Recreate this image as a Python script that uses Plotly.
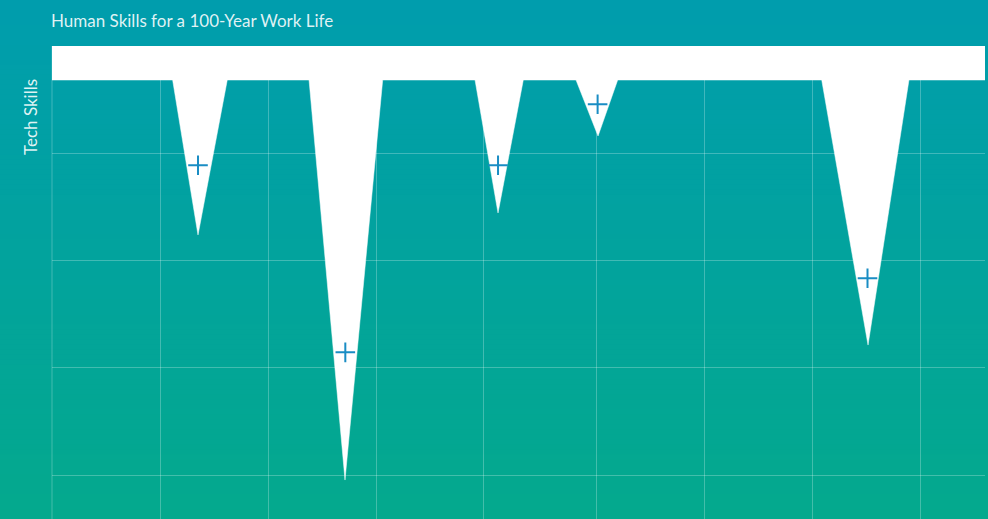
import plotly.graph_objects as go

# ---- data (x in grid units, y in "tech skills" units, 0 at top) ----
baseline = 0.317
x_start, x_end = 0.0, 8.639
spike_left = [1.117, 2.380, 3.917, 4.852, 7.127]
spike_tip_x = [1.352, 2.713, 4.130, 5.056, 7.556]
spike_right = [1.623, 3.062, 4.364, 5.238, 7.935]
spike_depth = [1.761, 4.045, 1.556, 0.839, 2.787]
marker_x = [1.352, 2.716, 4.130, 5.052, 7.551]
marker_y = [1.112, 2.855, 1.112, 0.543, 2.165]
grid_x = [0, 1, 2, 3, 4, 5.046, 6.046, 7.046, 8.046]
grid_y = [1, 2, 3, 4]
y_bottom = 4.408

# build outline of white shape
xs = [x_start]
ys = [baseline]
for l, t, r, d in zip(spike_left, spike_tip_x, spike_right, spike_depth):
    xs += [l, t, r]
    ys += [baseline, d, baseline]
xs.append(x_end)
ys.append(baseline)

W, H = 988, 519
ml, mr, mt, mb = 52, 3, 46, 0
pw, ph = W - ml - mr, H - mt - mb

fig = go.Figure()
fig.add_trace(go.Scatter(
    x=xs, y=ys, mode="lines", fill="tozeroy",
    fillcolor="white", line=dict(color="white", width=0.5),
    hoverinfo="skip", showlegend=False))
fig.add_trace(go.Scatter(
    x=marker_x, y=marker_y, mode="markers",
    marker=dict(symbol="cross-thin", size=14,
                line=dict(color="#1a8dc4", width=2)),
    hoverinfo="skip", showlegend=False))

# gradient background strips
def lerp(a, b, t):
    return tuple(round(a[i] + (b[i] - a[i]) * t) for i in range(3))

top_c = (0, 157, 173)
bot_c = (4, 169, 141)
n = 104
shapes = []
for i in range(n):
    py0 = H * i / n
    py1 = H * (i + 1) / n + 1
    c = lerp(top_c, bot_c, i / (n - 1))
    shapes.append(dict(
        type="rect", xref="paper", yref="paper", layer="below",
        x0=-ml / pw - 0.01, x1=1 + mr / pw + 0.01,
        y0=(H - mb - py1) / ph, y1=(H - mb - py0) / ph,
        fillcolor="rgb(%d,%d,%d)" % c, line=dict(width=0)))

fig.update_layout(
    width=W, height=H,
    margin=dict(l=ml, r=mr, t=mt, b=mb),
    paper_bgcolor="rgb(2,163,157)",
    plot_bgcolor="rgba(0,0,0,0)",
    shapes=shapes,
    xaxis=dict(range=[x_start, x_end], tickvals=grid_x, showticklabels=False,
               showgrid=True, gridcolor="rgba(255,255,255,0.25)", gridwidth=1,
               zeroline=False, showline=False, ticks=""),
    yaxis=dict(range=[y_bottom, 0], tickvals=grid_y, showticklabels=False,
               showgrid=True, gridcolor="rgba(255,255,255,0.25)", gridwidth=1,
               zeroline=False, showline=False, ticks=""),
    annotations=[
        dict(text="Human Skills for a 100-Year Work Life", xref="paper", yref="paper",
             x=0, y=(H - mb - 20) / ph, xanchor="left", yanchor="middle", xshift=-3,
             showarrow=False, font=dict(family="Lato", size=17, color="rgba(255,255,255,0.88)")),
        dict(text="Tech Skills", xref="paper", yref="paper", textangle=-90,
             x=(30 - ml) / pw, y=(H - mb - 117) / ph, xanchor="center", yanchor="middle",
             showarrow=False, font=dict(family="Lato", size=17, color="rgba(255,255,255,0.88)")),
    ],
)
fig.add_shape(type="line", xref="paper", yref="paper", x0=0, x1=0, y0=0, y1=1,
              line=dict(color="rgba(255,255,255,0.25)", width=1), layer="above")

fig.write_html("out.html", config={"displayModeBar": False},
               post_script="document.body.style.margin='0';")
